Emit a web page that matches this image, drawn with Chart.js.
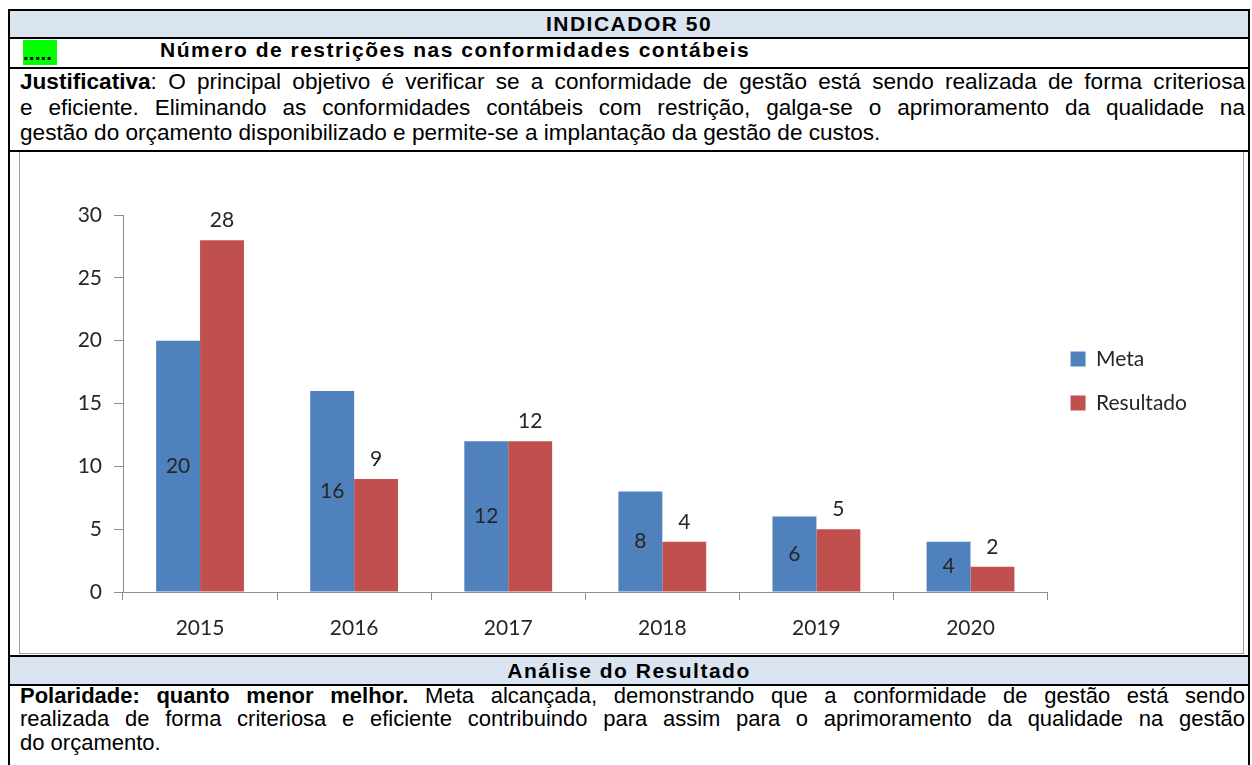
<!DOCTYPE html>
<html>
<head>
<meta charset="utf-8">
<script src="https://cdn.jsdelivr.net/npm/chart.js@4.4.0/dist/chart.umd.min.js"></script>
<style>
body{margin:0;width:1252px;height:765px;overflow:hidden;background:#fff;position:relative;font-family:"Liberation Sans",Arial,sans-serif;color:#000;}
.hl{position:absolute;left:8px;width:1242px;height:2px;background:#000;}
.vl{position:absolute;top:9px;width:2px;height:760px;background:#000;}
.blue{position:absolute;left:10px;width:1238px;background:#dbe5f1;}
.b{font-weight:bold;font-size:21px;letter-spacing:1.5px;}
.line{position:absolute;left:20px;width:1225px;font-size:22.6px;line-height:25.5px;text-align:justify;text-align-last:justify;word-spacing:-2px;}
.line b{font-weight:bold;}
.an{font-size:22px;line-height:23.5px;}
.last{text-align-last:left;word-spacing:0;}
#box{position:absolute;left:19px;top:152px;width:1223px;height:501px;border:1px solid #a0a0a0;border-top:none;}
#wrap{position:relative;width:1223px;height:501px;}
</style>
</head>
<body>
<div class="blue" style="top:11px;height:26px;"></div>
<div class="blue" style="top:657px;height:27px;"></div>
<div class="hl" style="top:9px"></div>
<div class="hl" style="top:37px"></div>
<div class="hl" style="top:67px"></div>
<div class="hl" style="top:150px"></div>
<div class="hl" style="top:655px"></div>
<div class="hl" style="top:684px"></div>
<div class="vl" style="left:8px"></div>
<div class="vl" style="left:1248px"></div>

<div class="b" style="position:absolute;left:10px;top:11px;width:1238px;height:26px;line-height:26px;text-align:center;">INDICADOR 50</div>
<div style="position:absolute;left:23px;top:40px;width:34px;height:25px;background:#00ff00;"></div>
<div class="b" style="position:absolute;left:23px;top:40px;line-height:25px;letter-spacing:0;">.....</div>
<div class="b" style="position:absolute;left:160px;top:36px;line-height:28px;">Número de restrições nas conformidades contábeis</div>

<div class="line" style="top:69px;"><b>Justificativa</b>: O principal objetivo é verificar se a conformidade de gestão está sendo realizada de forma criteriosa</div>
<div class="line" style="top:95px;">e eficiente. Eliminando as conformidades contábeis com restrição, galga-se o aprimoramento da qualidade na</div>
<div class="line last" style="top:120px;">gestão do orçamento disponibilizado e permite-se a implantação da gestão de custos.</div>

<div id="box"><div id="wrap"><canvas id="grafico"></canvas></div></div>

<div class="b" style="position:absolute;left:10px;top:657px;width:1238px;height:27px;line-height:27px;text-align:center;">Análise do Resultado</div>
<div class="line an" style="top:684px;"><b>Polaridade: quanto menor melhor.</b> Meta alcançada, demonstrando que a conformidade de gestão está sendo</div>
<div class="line an" style="top:707px;">realizada de forma criteriosa e eficiente contribuindo para assim para o aprimoramento da qualidade na gestão</div>
<div class="line an last" style="top:731px;">do orçamento.</div>

<script>
var anos = ['2015', '2016', '2017', '2018', '2019', '2020'];
var meta = [20, 16, 12, 8, 6, 4];
var resultado = [28, 9, 12, 4, 5, 2];
var yTicks = [0, 5, 10, 15, 20, 25, 30];

var fonte = {family: 'Lato', size: 21};
var corTexto = '#262626';
var corEixo = '#8c8c8c';

// rotulos: Meta no meio da barra, Resultado acima
var rotulos = {
	id: 'rotulos',
	afterDatasetsDraw: function(chart) {
		var ctx = chart.ctx;
		ctx.save();
		ctx.font = '21px Lato';
		ctx.fillStyle = corTexto;
		ctx.textAlign = 'center';
		chart.data.datasets.forEach(function(ds, i) {
			chart.getDatasetMeta(i).data.forEach(function(bar, j) {
				var v = ds.data[j];
				if (i === 0) {
					ctx.textBaseline = 'middle';
					ctx.fillText(v, bar.x, (bar.y + bar.base) / 2);
				} else {
					ctx.textBaseline = 'alphabetic';
					ctx.fillText(v, bar.x, bar.y - 13);
				}
			});
		});
		ctx.restore();
	}
};

var ctx = document.getElementById('grafico');

var grafico = new Chart(ctx, {
	type: 'bar',
	data: {
		labels: anos,
		datasets: [
			{
				label: 'Meta',
				backgroundColor: '#4f81bd',
				data: meta,
				categoryPercentage: 0.57,
				barPercentage: 1.0
			},
			{
				label: 'Resultado',
				backgroundColor: '#c0504d',
				data: resultado,
				categoryPercentage: 0.57,
				barPercentage: 1.0
			}
		]
	},
	options: {
		responsive: true,
		maintainAspectRatio: false,
		animation: false,
		layout: {padding: {top: 63, right: 46, bottom: 0, left: 0}},
		plugins: {
			tooltip: {enabled: false},
			legend: {
				position: 'right',
				align: 'start',
				title: {display: true, text: '', padding: {top: 96, bottom: 0}},
				labels: {
					boxWidth: 15,
					boxHeight: 15,
					padding: 23,
					color: corTexto,
					font: fonte
				}
			}
		},
		scales: {
			x: {
				afterFit: function(s) { s.height = 61; },
				grid: {display: true, drawOnChartArea: false, tickLength: 8, color: corEixo, offset: true},
				border: {color: corEixo},
				ticks: {color: corTexto, font: fonte, padding: 16}
			},
			y: {
				min: 0,
				max: 30,
				afterFit: function(s) { s.width = 103; },
				afterBuildTicks: function(s) { s.ticks = yTicks.map(function(v) { return {value: v}; }); },
				grid: {display: true, drawOnChartArea: false, tickLength: 9, color: corEixo},
				border: {color: corEixo},
				ticks: {color: corTexto, font: fonte, padding: 12}
			}
		}
	},
	plugins: [rotulos]
});
</script>
</body>
</html>
